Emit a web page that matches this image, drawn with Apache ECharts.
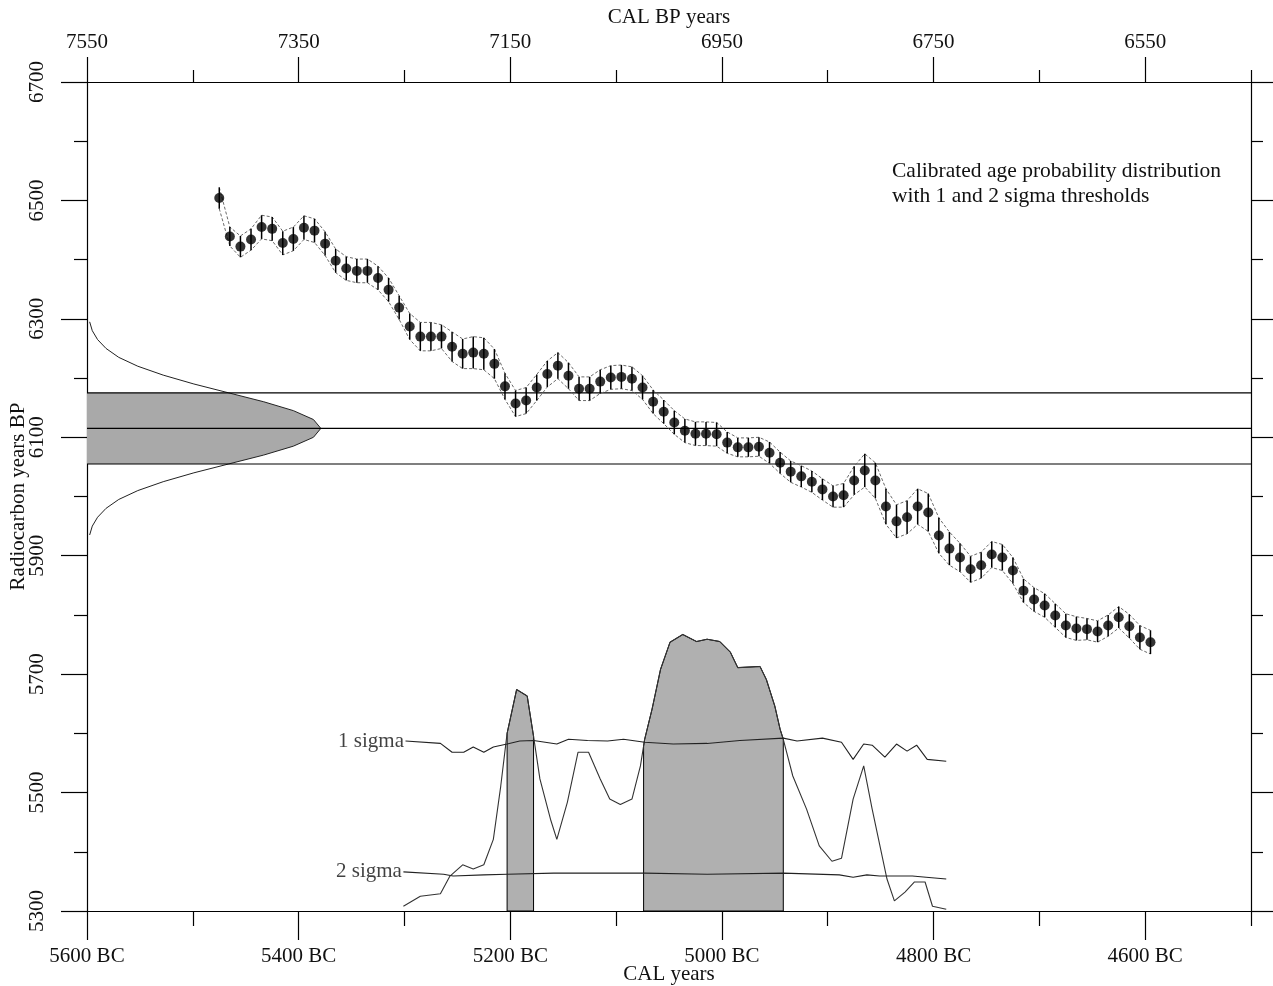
<!DOCTYPE html>
<html><head><meta charset="utf-8">
<script src="https://cdn.jsdelivr.net/npm/echarts@6/dist/echarts.min.js"></script>
<style>html,body{margin:0;padding:0;background:#fff}#c{width:1273px;height:986px}</style>
</head><body><div id="c"></div>
<script>
// ---- calibration curve (cal year, negative = BC) ----
const calYears = [-5475,-5465,-5455,-5445,-5435,-5425,-5415,-5405,-5395,-5385,
-5375,-5365,-5355,-5345,-5335,-5325,-5315,-5305,-5295,-5285,
-5275,-5265,-5255,-5245,-5235,-5225,-5215,-5205,-5195,-5185,
-5175,-5165,-5155,-5145,-5135,-5125,-5115,-5105,-5095,-5085,
-5075,-5065,-5055,-5045,-5035,-5025,-5015,-5005,-4995,-4985,
-4975,-4965,-4955,-4945,-4935,-4925,-4915,-4905,-4895,-4885,
-4875,-4865,-4855,-4845,-4835,-4825,-4815,-4805,-4795,-4785,
-4775,-4765,-4755,-4745,-4735,-4725,-4715,-4705,-4695,-4685,
-4675,-4665,-4655,-4645,-4635,-4625,-4615,-4605,-4595];
const c14BP = [6504,6439,6422,6434,6455,6452,6428,6435,6454,6449,
6427,6398,6385,6381,6381,6369,6349,6319,6287,6270,
6270,6270,6253,6241,6243,6241,6224,6186,6157,6162,
6184,6207,6221,6204,6182,6182,6194,6201,6202,6199,
6184,6160,6143,6125,6111,6106,6106,6105,6091,6083,
6083,6084,6074,6057,6042,6034,6025,6012,6000,6002,
6027,6044,6027,5983,5958,5965,5983,5973,5934,5912,
5897,5877,5884,5902,5897,5875,5841,5826,5816,5799,
5782,5777,5776,5772,5782,5796,5781,5762,5754];
const c14Err = [18,16,18,18,20,20,20,20,20,20,
20,20,20,20,20,20,20,20,22,24,
24,20,25,25,27,27,25,22,22,22,
22,22,22,22,20,20,20,20,20,20,
20,20,20,20,20,20,20,20,18,16,
16,16,18,18,18,18,18,18,18,20,
24,28,30,30,28,28,30,32,30,28,
24,22,22,22,22,22,20,20,20,20,
20,20,18,18,18,18,20,20,20];

// ---- measured sample (radiocarbon) ----
const sampleLines = [6175, 6115, 6055];
const gaussBP = [6295,6280,6265,6250,6235,6220,6205,6190,6175,6160,6145,6130,6115,6100,6085,6070,6055,6040,6025,6010,5995,5980,5965,5950,5935];
const gaussWidth = [2.5,5,10,18,30,48,72,101,134,167,195,214,221,214,195,167,134,101,72,48,30,18,10,5,2.5];

// ---- calibrated probability distribution ----
const probYears = [-5301,-5285,-5266,-5257,-5245,-5235,-5225,-5216,-5209,-5203,-5194,-5184,-5178,-5172,-5162,-5156,-5146,-5136,-5126,-5115,-5106,-5096,-5085,-5077,-5073,-5066,-5058,-5049,-5037,-5024,-5014,-5002,-4992,-4985,-4964,-4958,-4950,-4945,-4942,-4933,-4920,-4908,-4896,-4887,-4876,-4866,-4858,-4844,-4837,-4827,-4818,-4808,-4801,-4788];
const probValues = [5308,5325,5329,5359,5378,5371,5378,5421,5511,5600,5674,5663,5595,5523,5455,5421,5484,5568,5568,5523,5489,5480,5489,5545,5590,5641,5708,5754,5767,5755,5759,5755,5737,5711,5713,5691,5646,5607,5590,5528,5472,5410,5384,5389,5489,5545,5472,5354,5317,5332,5349,5349,5308,5303];
const shadeRanges = [[-5203,-5178],[-5074,-4942]];
const sigma1Years = [-5299,-5266,-5255,-5244,-5235,-5225,-5216,-5203,-5191,-5178,-5156,-5145,-5127,-5108,-5093,-5073,-5046,-5014,-4983,-4942,-4929,-4905,-4887,-4876,-4866,-4858,-4846,-4835,-4825,-4816,-4806,-4788];
const sigma1Values = [5587,5583,5568,5568,5577,5568,5577,5582,5587,5588,5582,5590,5588,5587,5590,5585,5582,5583,5588,5592,5587,5592,5585,5556,5582,5580,5560,5582,5570,5580,5556,5553];
const sigma2Years = [-5301,-5263,-5254,-5225,-5203,-5159,-5127,-5096,-5073,-5014,-4942,-4889,-4876,-4863,-4851,-4820,-4807,-4788];
const sigma2Values = [5366,5362,5359,5361,5362,5364,5364,5364,5364,5362,5364,5361,5357,5361,5359,5359,5357,5354];

// ---- axes ----
const xMin = -5600, xMax = -4500;
const xMajor = [-5600,-5400,-5200,-5000,-4800,-4600];
const xMinor = [-5500,-5300,-5100,-4900,-4700,-4500];
const yMin = 5300, yMax = 6700;
const yMajor = [5300,5500,5700,5900,6100,6300,6500,6700];
const yMinor = [5400,5600,5800,6000,6200,6400,6600];

const FONT = "'Liberation Serif','Times New Roman',serif";
const TXT = '#111';
const BLK = {color:'#000', width:1.2};

function zip(xs, ys){ return xs.map((x,i)=>[x, ys[i]]); }
function interp(xs, ys, x){
  for (let i=0;i<xs.length-1;i++){
    const a=xs[i], b=xs[i+1];
    if ((x-a)*(x-b) <= 0){ const t=(b===a)?0:(x-a)/(b-a); return ys[i]+t*(ys[i+1]-ys[i]); }
  }
  return ys[0];
}
function polySeries(pointsFn, style, z){
  return {type:'custom', data:[0], silent:true, z:z||1, animation:false,
    renderItem:(params, api)=>({type:'polygon', shape:{points: pointsFn().map(p=>api.coord(p))}, style:style})};
}

// gaussian shaded (1 sigma) polygon
function gaussShade(){
  const pts = [[xMin, sampleLines[0]]];
  gaussBP.forEach((y,i)=>{ if (y<=sampleLines[0] && y>=sampleLines[2]) pts.push([xMin+gaussWidth[i], y]); });
  pts.push([xMin, sampleLines[2]]);
  return pts;
}
function probShade(r){
  return ()=>{
    const pts = [[r[0], yMin], [r[0], interp(probYears, probValues, r[0])]];
    probYears.forEach((x,i)=>{ if (x>r[0] && x<r[1]) pts.push([x, probValues[i]]); });
    pts.push([r[1], interp(probYears, probValues, r[1])]);
    pts.push([r[1], yMin]);
    return pts;
  };
}

const lineS = (data, style, z) => ({type:'line', data, symbol:'none', silent:true, animation:false, z:z||3, lineStyle:style});

const xAxisBase = {type:'value', min:xMin, max:xMax, interval:100, splitLine:{show:false}, nameMoveOverlap:false};
const yAxisBase = {type:'value', min:yMin, max:yMax, interval:100, splitLine:{show:false}, nameMoveOverlap:false};
const nameStyle = {fontSize:21, fontFamily:FONT, color:TXT};

const option = {
  animation:false,
  backgroundColor:'#fff',
  grid:{left:87, right:22, top:82, bottom:75, containLabel:false, outerBoundsMode:'none'},
  xAxis:[
    Object.assign({}, xAxisBase, {position:'bottom',
      axisLine:{show:true, onZero:false, lineStyle:BLK},
      axisTick:{show:true, inside:false, length:29, customValues:xMajor, lineStyle:BLK},
      axisLabel:{show:true, customValues:xMajor, formatter:v=>(-v)+' BC', margin:35, fontSize:21, fontFamily:FONT, color:TXT},
      name:'CAL years', nameLocation:'middle', nameGap:53, nameTextStyle:nameStyle}),
    Object.assign({}, xAxisBase, {position:'bottom',
      axisLine:{show:false}, axisTick:{show:true, inside:false, length:15, customValues:xMinor, lineStyle:BLK}, axisLabel:{show:false}}),
    Object.assign({}, xAxisBase, {position:'top',
      axisLine:{show:true, onZero:false, lineStyle:BLK},
      axisTick:{show:true, inside:false, length:25, customValues:xMajor, lineStyle:BLK},
      axisLabel:{show:true, customValues:xMajor, formatter:v=>String(1950 - v), margin:29, fontSize:21, fontFamily:FONT, color:TXT},
      name:'CAL BP years', nameLocation:'middle', nameGap:54, nameTextStyle:nameStyle}),
    Object.assign({}, xAxisBase, {position:'top',
      axisLine:{show:false}, axisTick:{show:true, inside:false, length:12, customValues:xMinor, lineStyle:BLK}, axisLabel:{show:false}})
  ],
  yAxis:[
    Object.assign({}, yAxisBase, {position:'left',
      axisLine:{show:true, onZero:false, lineStyle:BLK},
      axisTick:{show:true, inside:false, length:26, customValues:yMajor, lineStyle:BLK},
      axisLabel:{show:true, customValues:yMajor, formatter:v=>String(v), rotate:90, margin:39, fontSize:21, fontFamily:FONT, color:TXT},
      name:'Radiocarbon years BP', nameLocation:'middle', nameGap:58, nameTextStyle:nameStyle}),
    Object.assign({}, yAxisBase, {position:'left',
      axisLine:{show:false}, axisTick:{show:true, inside:false, length:13, customValues:yMinor, lineStyle:BLK}, axisLabel:{show:false}}),
    Object.assign({}, yAxisBase, {position:'right',
      axisLine:{show:true, onZero:false, lineStyle:BLK},
      axisTick:{show:true, inside:false, length:22, customValues:yMajor, lineStyle:BLK}, axisLabel:{show:false}}),
    Object.assign({}, yAxisBase, {position:'right',
      axisLine:{show:false}, axisTick:{show:true, inside:false, length:12, customValues:yMinor, lineStyle:BLK}, axisLabel:{show:false}})
  ],
  graphic:[{type:'text', left:892, top:159, silent:true,
    style:{text:'Calibrated age probability distribution\nwith 1 and 2 sigma thresholds', font:'21.5px '+FONT, fill:TXT, lineHeight:25}}],
  series:[
    polySeries(gaussShade, {fill:'#a9a9a9', stroke:'none'}, 1),
    polySeries(probShade(shadeRanges[0]), {fill:'#b0b0b0', stroke:'#000', lineWidth:1}, 1),
    polySeries(probShade(shadeRanges[1]), {fill:'#b0b0b0', stroke:'#000', lineWidth:1}, 1),
    lineS(zip(gaussWidth.map(w=>xMin+w), gaussBP), {color:'#222', width:1}),
    ...sampleLines.map(v => lineS([[xMin, v],[xMax, v]], {color:'#000', width:1.1})),
    lineS(zip(probYears, probValues), {color:'#333', width:1.1}),
    lineS(zip(sigma1Years, sigma1Values), {color:'#222', width:1.1}),
    lineS(zip(sigma2Years, sigma2Values), {color:'#222', width:1.1}),
    lineS(zip(calYears, c14BP.map((v,i)=>v+c14Err[i])), {color:'#6a6a6a', width:1, type:[3,2]}),
    lineS(zip(calYears, c14BP.map((v,i)=>v-c14Err[i])), {color:'#6a6a6a', width:1, type:[3,2]}),
    {type:'custom', silent:true, animation:false, z:4,
      data: calYears.map((x,i)=>[x, c14BP[i]-c14Err[i], c14BP[i]+c14Err[i]]),
      encode:{x:0, y:[1,2]},
      renderItem:(params, api)=>{
        const p1 = api.coord([api.value(0), api.value(1)]);
        const p2 = api.coord([api.value(0), api.value(2)]);
        return {type:'line', shape:{x1:p1[0], y1:p1[1], x2:p2[0], y2:p2[1]}, style:{stroke:'#000', lineWidth:1.5}};
      }},
    {type:'scatter', silent:true, animation:false, z:5, data:zip(calYears, c14BP), symbol:'circle', symbolSize:10, itemStyle:{color:'#000'}},
    {type:'scatter', silent:true, animation:false, z:5, symbolSize:1, itemStyle:{color:'rgba(0,0,0,0)'},
      data:[
        {value:[sigma1Years[0], sigma1Values[0]], label:{show:true, position:'left', distance:1, formatter:'1 sigma', fontSize:21, fontFamily:FONT, color:TXT}},
        {value:[sigma2Years[0], sigma2Values[0]], label:{show:true, position:'left', distance:1, formatter:'2 sigma', fontSize:21, fontFamily:FONT, color:TXT}}
      ]}
  ]
};
const chart = echarts.init(document.getElementById('c'), null, {renderer:'canvas'});
chart.setOption(option);
</script>
</body></html>
